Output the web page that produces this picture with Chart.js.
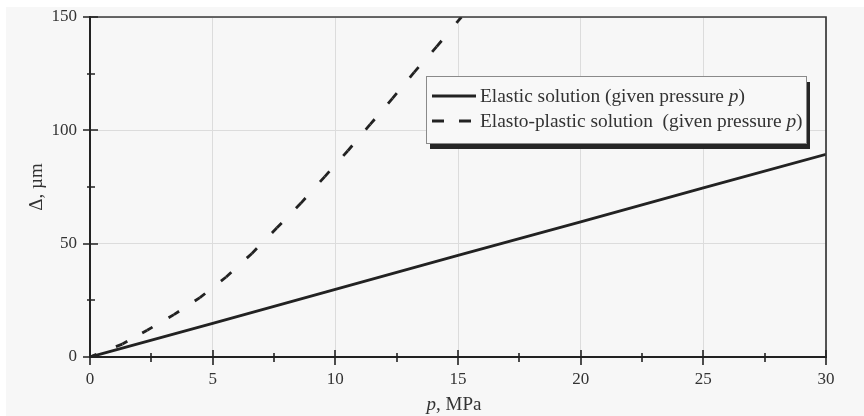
<!DOCTYPE html>
<html>
<head>
<meta charset="utf-8">
<title>Delta vs p</title>
<script src="https://cdn.jsdelivr.net/npm/chart.js@4.4.1/dist/chart.umd.min.js"></script>
<style>
    html, body { margin: 0; padding: 0; background: #fff; }
    #wrap { width: 864px; height: 416px; }
</style>
</head>
<body>
<div id="wrap"><canvas id="deltaChart" width="864" height="416"></canvas></div>
<script>
// values
var elasticP = [0, 5, 10, 15, 20, 25, 30];
var elasticDelta = [0, 14.8, 29.8, 44.8, 59.6, 74.6, 89.4];

// dashed curve, one point per dash centre
var plasticP = [0, 1.32, 2.33, 3.42, 4.48, 5.55, 6.60, 7.62, 8.59, 9.57, 10.51, 11.42, 12.33, 13.21, 14.13, 15.14];
var plasticDelta = [0, 5.7, 11.8, 18.7, 26.2, 35.3, 45.7, 57.0, 67.8, 79.6, 91.0, 102.6, 114.1, 125.6, 136.9, 150];

var xTicks = [0, 5, 10, 15, 20, 25, 30];
var yTicks = [0, 50, 100, 150];
var legendLabels = ["Elastic solution (given pressure ", "Elasto-plastic solution  (given pressure "];

var serif = "'Liberation Serif', 'Times New Roman', serif";
var ink = "#222";
var dashFraction = 0.4;

function toPoints(xs, ys) {
    var pts = [];
    for (var i = 0; i < xs.length; i++) {
        pts.push({ x: xs[i], y: ys[i] });
    }
    return pts;
}

// draws a run of text pieces, some italic
function drawParts(ctx, parts, x, y, size) {
    for (var i = 0; i < parts.length; i++) {
        ctx.font = (parts[i][1] ? "italic " : "") + size + "px " + serif;
        ctx.fillText(parts[i][0], x, y);
        x += ctx.measureText(parts[i][0]).width;
    }
}

function partsWidth(ctx, parts, size) {
    var w = 0;
    for (var i = 0; i < parts.length; i++) {
        ctx.font = (parts[i][1] ? "italic " : "") + size + "px " + serif;
        w += ctx.measureText(parts[i][0]).width;
    }
    return w;
}

function segLength(c) {
    return Math.hypot(c.p1.x - c.p0.x, c.p1.y - c.p0.y);
}

var panelPlugin = {
    id: "panel",
    beforeDraw: function (chart) {
        var ctx = chart.ctx;
        ctx.save();
        ctx.fillStyle = "#f7f7f7";
        ctx.fillRect(6, 7, chart.width - 6, chart.height - 7);
        ctx.restore();
    }
};

var decorPlugin = {
    id: "decor",
    afterDatasetsDraw: function (chart) {
        var ctx = chart.ctx;
        var area = chart.chartArea;
        var xs = chart.scales.x;
        var ys = chart.scales.y;
        ctx.save();

        // top and right frame
        ctx.strokeStyle = "#3a3a3a";
        ctx.lineWidth = 1.7;
        ctx.beginPath();
        ctx.moveTo(area.left, area.top);
        ctx.lineTo(area.right, area.top);
        ctx.lineTo(area.right, area.bottom);
        ctx.stroke();

        // ticks crossing the axes
        ctx.strokeStyle = ink;
        ctx.lineWidth = 1.6;
        ctx.beginPath();
        var v, px;
        for (v = 0; v <= 30; v += 2.5) {
            px = Math.round(xs.getPixelForValue(v));
            var major = (v % 5 === 0);
            ctx.moveTo(px, area.bottom - (major ? 7 : 4));
            ctx.lineTo(px, area.bottom + (major ? 8 : 5));
        }
        for (v = 0; v <= 150; v += 25) {
            px = Math.round(ys.getPixelForValue(v));
            var majorY = (v % 50 === 0);
            ctx.moveTo(area.left - (majorY ? 7 : 3), px);
            ctx.lineTo(area.left + (majorY ? 8 : 5), px);
        }
        ctx.stroke();

        // legend box with shadow
        var bx = 426, by = 76, bw = 380, bh = 67;
        ctx.fillStyle = "#262626";
        ctx.fillRect(bx + 4, by + 6, bw, bh);
        ctx.fillStyle = "#f8f8f8";
        ctx.fillRect(bx, by, bw, bh);
        ctx.strokeStyle = "#8a8a8a";
        ctx.lineWidth = 1;
        ctx.strokeRect(bx + 0.5, by + 0.5, bw, bh);

        ctx.strokeStyle = ink;
        ctx.lineWidth = 2.8;
        ctx.beginPath();
        ctx.moveTo(432, 96);
        ctx.lineTo(476, 96);
        ctx.stroke();
        ctx.setLineDash([12, 15]);
        ctx.beginPath();
        ctx.moveTo(432, 121);
        ctx.lineTo(476, 121);
        ctx.stroke();
        ctx.setLineDash([]);

        ctx.fillStyle = "#333";
        ctx.textBaseline = "middle";
        ctx.textAlign = "left";
        drawParts(ctx, [[legendLabels[0], false], ["p", true], [")", false]], 480, 97, 19.4);
        drawParts(ctx, [[legendLabels[1], false], ["p", true], [")", false]], 480, 122, 19.4);

        // axis titles
        var xt = [["p", true], [", MPa", false]];
        var w = partsWidth(ctx, xt, 19);
        drawParts(ctx, xt, (area.left + area.right) / 2 - 4 - w / 2, 405, 19);

        ctx.translate(37, (area.top + area.bottom) / 2);
        ctx.rotate(-Math.PI / 2);
        var yt = [["\u0394, \u00b5m", false]];
        w = partsWidth(ctx, yt, 19);
        drawParts(ctx, yt, -w / 2, 0, 19);

        ctx.restore();
    }
};

var chart = new Chart(document.getElementById("deltaChart"), {
    type: "line",
    data: {
        datasets: [
            {
                label: "Elastic solution",
                data: toPoints(elasticP, elasticDelta),
                borderColor: ink,
                borderWidth: 2.8,
                pointRadius: 0,
                tension: 0
            },
            {
                label: "Elasto-plastic solution",
                data: toPoints(plasticP, plasticDelta),
                borderColor: ink,
                borderWidth: 2.8,
                pointRadius: 0,
                tension: 0,
                segment: {
                    borderDash: function (c) {
                        var len = segLength(c);
                        return [len * dashFraction, len * (1 - dashFraction)];
                    },
                    borderDashOffset: function (c) {
                        return segLength(c) * dashFraction / 2;
                    }
                }
            }
        ]
    },
    options: {
        responsive: false,
        animation: false,
        events: [],
        layout: { padding: { left: 6, top: 17, right: 38, bottom: 0 } },
        plugins: {
            legend: { display: false },
            tooltip: { enabled: false }
        },
        scales: {
            x: {
                type: "linear",
                min: 0,
                max: 30,
                afterBuildTicks: function (scale) {
                    scale.ticks = xTicks.map(function (v) { return { value: v }; });
                },
                afterFit: function (scale) { scale.height = 59; },
                grid: { color: "#dcdcdc", lineWidth: 1, tickLength: 8, tickColor: "rgba(0,0,0,0)" },
                border: { color: ink, width: 2 },
                ticks: { padding: 4, color: "#333", font: { family: serif, size: 17 }, maxRotation: 0 }
            },
            y: {
                type: "linear",
                min: 0,
                max: 150,
                afterBuildTicks: function (scale) {
                    scale.ticks = yTicks.map(function (v) { return { value: v }; });
                },
                afterFit: function (scale) { scale.width = 84; },
                grid: { color: "#dcdcdc", lineWidth: 1, tickLength: 8, tickColor: "rgba(0,0,0,0)" },
                border: { color: ink, width: 2 },
                ticks: { padding: 5, color: "#333", font: { family: serif, size: 17 } }
            }
        }
    },
    plugins: [panelPlugin, decorPlugin]
});
</script>
</body>
</html>
